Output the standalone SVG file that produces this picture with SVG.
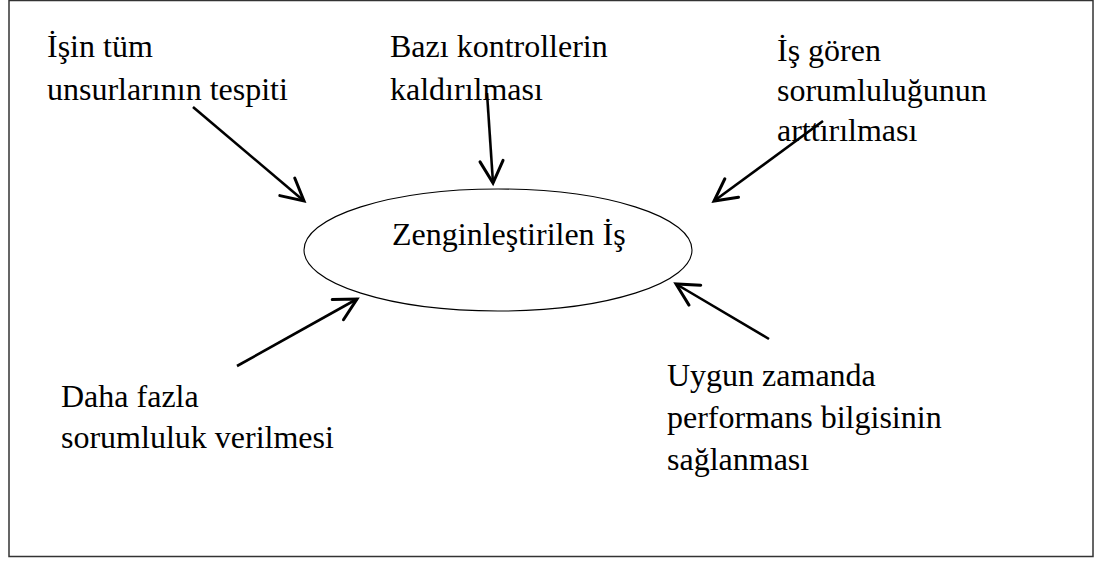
<svg xmlns="http://www.w3.org/2000/svg" width="1111" height="563" viewBox="0 0 1111 563">
  <style>
    .lbl { font-family: "Liberation Serif", "Times New Roman", serif; font-size: 32px; fill: #000; }
    .arrow { stroke: #000; stroke-width: 2.6; fill: none; marker-end: url(#vhead); }
  </style>
  <defs>
    <marker id="vhead" markerUnits="userSpaceOnUse" markerWidth="30" markerHeight="30" viewBox="-22 -12 26 24" refX="0" refY="0" orient="auto">
      <path d="M-19,-10 L0,0 L-19,10" fill="none" stroke="#000" stroke-width="2.6" stroke-linecap="round" stroke-linejoin="miter"/>
    </marker>
  </defs>
  <rect width="1111" height="563" fill="#fff"/>
  <!-- outer frame -->
  <rect x="9" y="0.5" width="1084" height="556" fill="none" stroke="#333" stroke-width="1.5"/>

  <g id="center">
    <ellipse cx="498" cy="250" rx="194" ry="61" fill="none" stroke="#000" stroke-width="1.1"/>
    <text class="lbl" x="392" y="245">Zenginleştirilen İş</text>
  </g>

  <g id="n1">
    <text class="lbl" x="47" y="57">İşin tüm</text>
    <text class="lbl" x="47" y="100">unsurlarının tespiti</text>
  </g>
  <g id="n2">
    <text class="lbl" x="390" y="57">Bazı kontrollerin</text>
    <text class="lbl" x="390" y="100">kaldırılması</text>
  </g>
  <g id="n3">
    <text class="lbl" x="777" y="61">İş gören</text>
    <text class="lbl" x="777" y="101">sorumluluğunun</text>
    <text class="lbl" x="777" y="141">arttırılması</text>
  </g>
  <g id="n4">
    <text class="lbl" x="61" y="407">Daha fazla</text>
    <text class="lbl" x="61" y="448">sorumluluk verilmesi</text>
  </g>
  <g id="n5">
    <text class="lbl" x="667" y="386">Uygun zamanda</text>
    <text class="lbl" x="667" y="428">performans bilgisinin</text>
    <text class="lbl" x="667" y="470">sağlanması</text>
  </g>

  <g id="connectors">
    <line class="arrow" x1="193" y1="107" x2="304" y2="201"/>
    <line class="arrow" x1="487" y1="93" x2="493" y2="183"/>
    <line class="arrow" x1="823" y1="121" x2="714" y2="201"/>
    <line class="arrow" x1="237" y1="366" x2="357" y2="299"/>
    <line class="arrow" x1="769" y1="339" x2="676" y2="284"/>
  </g>
</svg>
